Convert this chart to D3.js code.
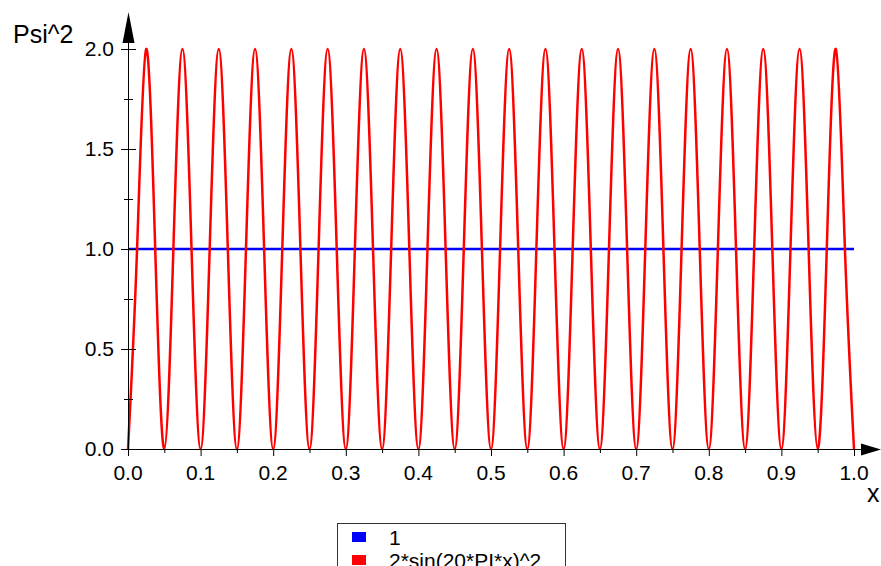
<!DOCTYPE html>
<html><head><meta charset="utf-8">
<script src="https://cdn.jsdelivr.net/npm/d3@7"></script>
<style>body{margin:0;background:#fff;overflow:hidden}svg{display:block;font-family:"Liberation Sans",Arial,sans-serif}</style>
</head><body>
<svg id="c" width="881" height="566"></svg>
<script>
// Data
const xMajorTicks = [0,0.1,0.2,0.3,0.4,0.5,0.6,0.7,0.8,0.9,1.0];
const xMinorTicks = [0.05,0.15,0.25,0.35,0.45,0.55,0.65,0.75,0.85,0.95];
const yMajorTicks = [0,0.5,1.0,1.5,2.0];
const yMinorTicks = [0.25,0.75,1.25,1.75];
const series1 = [{x:0,y:1},{x:1,y:1}]; // constant 1
// 2*sin(20*PI*x)^2 : points read at troughs (0), crossings (1) and peaks (2), every 0.0125 in x
const series2Y = [
 0,1,2,1, 0,1,2,1, 0,1,2,1, 0,1,2,1, 0,1,2,1,
 0,1,2,1, 0,1,2,1, 0,1,2,1, 0,1,2,1, 0,1,2,1,
 0,1,2,1, 0,1,2,1, 0,1,2,1, 0,1,2,1, 0,1,2,1,
 0,1,2,1, 0,1,2,1, 0,1,2,1, 0,1,2,1, 0,1,2,1,
 0];
const series2X = series2Y.map((_, i) => i * 0.0125);
const legendLabels = ["1", "2*sin(20*PI*x)^2"];
const colors = ["#0000ff", "#ff0000"];

const svg = d3.select("#c");
const x = d3.scaleLinear().domain([0,1]).range([128,854]);
const y = d3.scaleLinear().domain([0,2]).range([449,49]);

// Curves
const line = d3.line().x(d=>x(d.x)).y(d=>y(d.y));
svg.append("path").datum(series1).attr("d", line)
  .attr("fill","none").attr("stroke",colors[0]).attr("stroke-width",2.5);
const s2 = series2X.map((v,i)=>({x:v,y:series2Y[i]}));
svg.append("path").datum(s2).attr("d", line.curve(d3.curveNatural))
  .attr("fill","none").attr("stroke",colors[1]).attr("stroke-width",2.5);

// Axes
const ax = svg.append("g").attr("stroke","#000").attr("stroke-width",1);
ax.append("line").attr("x1",x(0)-6).attr("x2",866).attr("y1",y(0)+0.5).attr("y2",y(0)+0.5);
ax.append("line").attr("x1",x(0)+0.5).attr("x2",x(0)+0.5).attr("y1",y(0)+6).attr("y2",36);
svg.append("path").attr("d",`M${x(0)+0.5},12 L${x(0)-5.5},43 L${x(0)+6.5},43 Z`).attr("fill","#000");
svg.append("path").attr("d",`M881,${y(0)+0.5} L861,${y(0)-5.5} L861,${y(0)+6.5} Z`).attr("fill","#000");

// X ticks
xMajorTicks.forEach(t=>{
  ax.append("line").attr("x1",x(t)+0.5).attr("x2",x(t)+0.5).attr("y1",y(0)).attr("y2",y(0)+7);
});
xMinorTicks.forEach(t=>{
  ax.append("line").attr("x1",x(t)+0.5).attr("x2",x(t)+0.5).attr("y1",y(0)).attr("y2",y(0)+4);
});
yMajorTicks.forEach(t=>{
  ax.append("line").attr("x1",x(0)-7).attr("x2",x(0)+8).attr("y1",y(t)+0.5).attr("y2",y(t)+0.5);
});
yMinorTicks.forEach(t=>{
  ax.append("line").attr("x1",x(0)-4).attr("x2",x(0)+5).attr("y1",y(t)+0.5).attr("y2",y(t)+0.5);
});

// Tick labels
svg.append("g").selectAll("text").data(xMajorTicks).join("text")
  .attr("x",d=>x(d)).attr("y",480).attr("text-anchor","middle")
  .attr("font-size",21).text(d=>d.toFixed(1));
svg.append("g").selectAll("text").data(yMajorTicks).join("text")
  .attr("x",114).attr("y",d=>y(d)+7).attr("text-anchor","end")
  .attr("font-size",21).text(d=>d.toFixed(1));

// Axis titles
svg.append("text").attr("x",13).attr("y",43).attr("font-size",25).text("Psi^2");
svg.append("text").attr("x",867).attr("y",502).attr("font-size",25).text("x");

// Legend
const lg = svg.append("g");
lg.append("rect").attr("x",337.5).attr("y",523.5).attr("width",228).attr("height",60)
  .attr("fill","#fff").attr("stroke","#333").attr("stroke-width",1);
legendLabels.forEach((l,i)=>{
  lg.append("rect").attr("x",352).attr("y",532+i*23).attr("width",14).attr("height",10).attr("fill",colors[i]);
  lg.append("text").attr("x",389).attr("y",545+i*23).attr("font-size",21).text(l);
});
</script>
</body></html>
